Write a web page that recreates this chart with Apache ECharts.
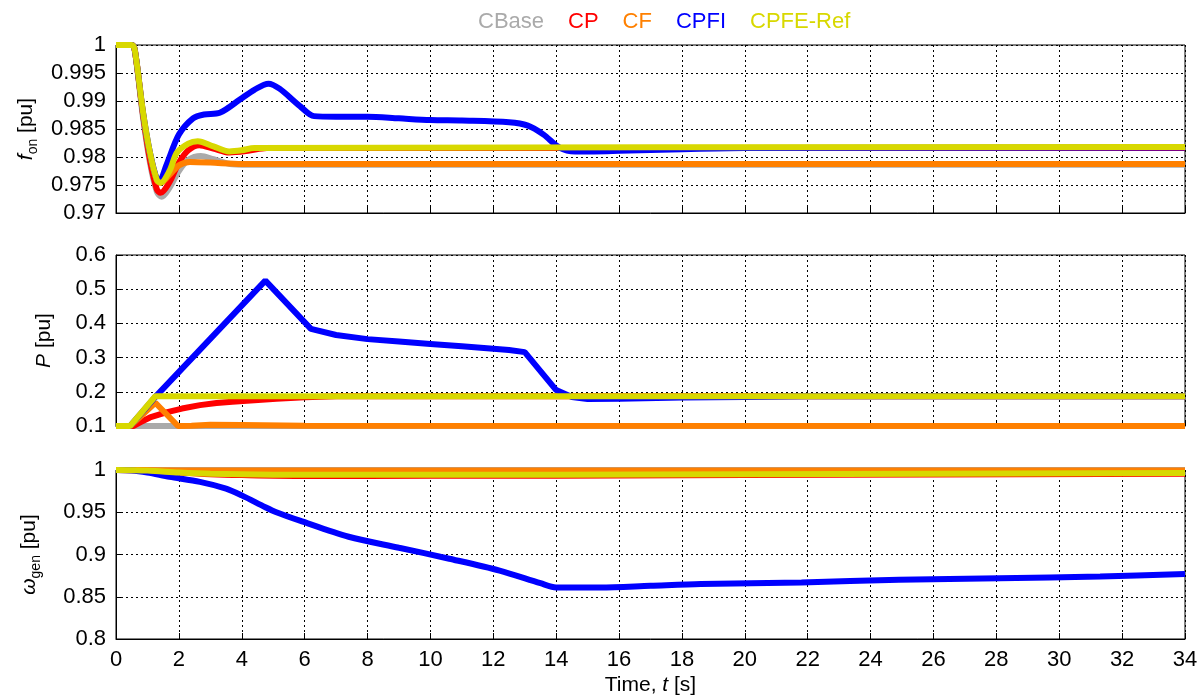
<!DOCTYPE html>
<html>
<head>
<meta charset="utf-8">
<script src="https://cdn.jsdelivr.net/npm/echarts@6/dist/echarts.min.js"></script>
<style>html,body{margin:0;padding:0;background:#fff;}#c{width:1202px;height:697px;}</style>
</head>
<body>
<div id="c"></div>
<script>
// ---- data (time [s], value [pu]) ----
const seriesNames = ['CBase', 'CP', 'CF', 'CPFI', 'CPFE-Ref'];
const seriesColors = ['#aaaaaa', '#ff0000', '#ff8000', '#0000ff', '#d8d800'];
const xTicks = { min: 0, max: 34, interval: 2 };

// Panel 1: f_on
const f_CBase = [[0,1],[0.5,1],[0.6,0.999],[0.86,0.987],[1.08,0.979],[1.3,0.9738],[1.45,0.9729],[1.7,0.9745],[2.0,0.9775],[2.3,0.9795],[2.7,0.9802],[3.1,0.9796],[3.7,0.9787],[4.5,0.9786],[34,0.9786]];
const f_CP = [[0,1],[0.5,1],[0.6,0.999],[0.86,0.9875],[1.08,0.9795],[1.3,0.9742],[1.42,0.9736],[1.7,0.9755],[2.0,0.979],[2.3,0.9812],[2.65,0.9821],[3.1,0.9815],[3.6,0.9808],[4.2,0.9811],[4.8,0.9816],[6,0.9816],[34,0.9816]];
const f_CF = [[0,1],[0.5,1],[0.6,0.999],[0.86,0.9878],[1.08,0.9805],[1.3,0.9758],[1.42,0.9754],[1.7,0.9768],[2.0,0.9785],[2.35,0.9791],[3,0.979],[4,0.97875],[34,0.97875]];
const f_CPFI = [[0,1],[0.5,1],[0.6,0.999],[0.86,0.9879],[1.08,0.9808],[1.3,0.976],[1.38,0.9757],[1.6,0.9785],[2.0,0.984],[2.45,0.9869],[2.8,0.9876],[3.3,0.9879],[3.95,0.9903],[4.4,0.992],[4.85,0.9931],[5.2,0.9922],[5.85,0.9891],[6.3,0.9873],[7,0.9872],[8,0.9872],[9,0.9869],[10,0.9866],[11,0.9865],[12.5,0.9862],[13.1,0.9856],[13.6,0.984],[14.1,0.9817],[14.6,0.981],[15.2,0.981],[16,0.9811],[18,0.9814],[20,0.9816],[34,0.9817]];
const f_Ref = [[0,1],[0.5,1],[0.6,0.999],[0.86,0.988],[1.08,0.9808],[1.3,0.9759],[1.42,0.9754],[1.7,0.9775],[1.94,0.9808],[2.3,0.9824],[2.6,0.9828],[3.1,0.9819],[3.6,0.981],[4,0.9812],[4.4,0.9816],[34,0.9818]];

// Panel 2: P
const p_CBase = [[0,0.1],[34,0.1]];
const p_CP = [[0,0.1],[0.55,0.1],[0.8,0.112],[1.08,0.125],[1.6,0.14],[2.1,0.151],[2.67,0.161],[3.2,0.167],[3.7,0.171],[4.4,0.175],[5.1,0.18],[6,0.184],[7,0.187],[34,0.187]];
const p_CF = [[0,0.1],[0.45,0.1],[1.25,0.168],[1.97,0.1],[2.4,0.101],[3,0.104],[4,0.103],[6,0.101],[34,0.1]];
const p_CPFI = [[0,0.1],[0.45,0.1],[1.25,0.185],[4.75,0.525],[6.2,0.384],[7,0.366],[8,0.354],[9,0.347],[10,0.34],[11,0.333],[12,0.326],[12.5,0.322],[13,0.316],[14,0.205],[14.5,0.185],[15,0.179],[16,0.18],[18,0.183],[20,0.185],[22,0.187],[34,0.187]];
const p_Ref = [[0,0.1],[0.45,0.1],[1.25,0.187],[34,0.187]];

// Panel 3: omega_gen
const w_CBase = [[0,1],[34,1]];
const w_CP = [[0,1],[1,0.9995],[2,0.997],[3,0.995],[4,0.994],[6,0.993],[8,0.993],[12,0.9932],[16,0.9935],[20,0.994],[34,0.9955]];
const w_CF = [[0,1],[2,0.9995],[34,0.9995]];
const w_CPFI = [[0,1],[0.5,0.9995],[1,0.997],[1.7,0.992],[2.67,0.986],[3.5,0.978],[4,0.97],[4.75,0.956],[5.1,0.95],[5.85,0.94],[7.4,0.921],[9,0.908],[10.6,0.895],[12.2,0.881],[13.5,0.866],[14,0.861],[15.4,0.861],[17,0.863],[18.6,0.865],[21.8,0.867],[24.9,0.87],[28.1,0.872],[31.3,0.874],[34,0.877]];
const w_Ref = [[0,1],[1,0.9993],[2,0.997],[3,0.9955],[5,0.9945],[8,0.9943],[14,0.9945],[20,0.995],[34,0.9965]];

const yAxes = [
  { min: 0.97, max: 1, interval: 0.005, name: '{i|f}{s|on}{n| [pu]}', gap: 72 },
  { min: 0.1, max: 0.6, interval: 0.1, name: '{i|P}{n| [pu]}', gap: 58 },
  { min: 0.8, max: 1, interval: 0.05, name: '{i|ω}{s|gen}{n| [pu]}', gap: 73 }
];
const panels = [
  [f_CBase, f_CP, f_CF, f_CPFI, f_Ref],
  [p_CBase, p_CP, p_CF, p_CPFI, p_Ref],
  [w_CBase, w_CP, w_CF, w_CPFI, w_Ref]
];
const panelSmooth = [0.3, false, 0.3];

// ---- chart ----
const FONT = 'Liberation Sans';
const LBL = 22;
const grids = [
  { left: 116, right: 17, top: 45, height: 168 },
  { left: 116, right: 17, top: 255, height: 171 },
  { left: 116, right: 17, top: 470, height: 169 }
].map(g => Object.assign(g, { show: true, borderColor: '#000', borderWidth: 1, backgroundColor: '#fff' }));

const gridLine = { show: true, lineStyle: { color: '#000', width: 1, type: [2, 3] } };
const nameRich = {
  i: { fontStyle: 'italic', fontSize: 21, fontFamily: FONT, color: '#000', lineHeight: 28, verticalAlign: 'middle' },
  s: { fontSize: 14, fontFamily: FONT, color: '#000', lineHeight: 14, verticalAlign: 'bottom' },
  n: { fontSize: 21, fontFamily: FONT, color: '#000', lineHeight: 28, verticalAlign: 'middle' }
};
const tickLabel = (show) => ({ show: show, color: '#000', margin: 10, fontSize: LBL, fontFamily: FONT });

const xAxis = [0, 1, 2].map(k => ({
  type: 'value', gridIndex: k, min: xTicks.min, max: xTicks.max, interval: xTicks.interval,
  axisLine: { show: true, lineStyle: { color: '#000', width: 1 } },
  axisTick: { show: true, inside: true, length: 6, lineStyle: { color: '#000' } },
  axisLabel: tickLabel(k === 2),
  splitLine: gridLine,
  name: k === 2 ? '{n|Time, }{i|t}{n| [s]}' : '',
  nameLocation: 'middle', nameGap: 32,
  nameTextStyle: { rich: nameRich, fontSize: 21, fontFamily: FONT, color: '#000' }
}));

const yAxis = yAxes.map((a, k) => ({
  type: 'value', gridIndex: k, min: a.min, max: a.max, interval: a.interval,
  axisLine: { show: true, lineStyle: { color: '#000', width: 1 } },
  axisTick: { show: true, inside: true, length: 6, lineStyle: { color: '#000' } },
  axisLabel: tickLabel(true),
  splitLine: gridLine,
  name: a.name, nameLocation: 'middle', nameGap: a.gap, nameRotate: 90,
  nameTextStyle: { rich: nameRich, fontSize: 21, fontFamily: FONT, color: '#000' }
}));

const series = [];
panels.forEach((pd, k) => {
  pd.forEach((d, j) => {
    series.push({
      type: 'line', name: seriesNames[j], xAxisIndex: k, yAxisIndex: k,
      data: d, showSymbol: false, symbol: 'none',
      smooth: panelSmooth[k],
      lineStyle: { color: seriesColors[j], width: 6 }, itemStyle: { color: seriesColors[j] },
      z: 2 + j
    });
  });
});

const chart = echarts.init(document.getElementById('c'), null, { renderer: 'canvas' });
chart.setOption({
  animation: false,
  backgroundColor: '#fff',
  legend: {
    top: 6, left: 468, itemWidth: 0, itemHeight: 0, itemGap: 19, icon: 'rect',
    data: seriesNames.map((n, j) => ({ name: n, textStyle: { color: seriesColors[j] } })),
    textStyle: { fontSize: 22, fontFamily: FONT }
  },
  grid: grids,
  xAxis: xAxis,
  yAxis: yAxis,
  series: series
});
</script>
</body>
</html>
